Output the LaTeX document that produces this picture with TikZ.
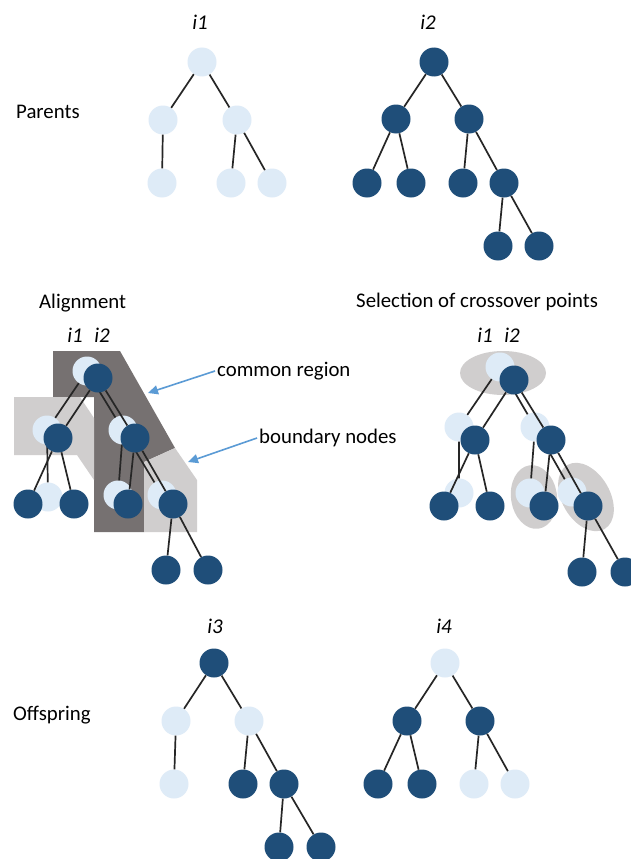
\documentclass[tikz,border=0pt]{standalone}
\usepackage{fontspec}
\setmainfont{Carlito}
\usetikzlibrary{arrows.meta}
\definecolor{dblue}{HTML}{1F4E79}
\definecolor{lblue}{HTML}{DEEBF7}
\definecolor{dgrey}{HTML}{767171}
\definecolor{lgrey}{HTML}{D0CECE}
\definecolor{arrblue}{HTML}{5B9BD5}
\definecolor{edgec}{HTML}{262626}
\begin{document}
\begin{tikzpicture}[x=1pt,y=-1pt,
  dn/.style={circle,fill=dblue,minimum size=29pt,inner sep=0pt},
  ln/.style={circle,fill=lblue,minimum size=29pt,inner sep=0pt},
  ed/.style={draw=edgec,line width=1.7pt},
  lbl/.style={font=\fontsize{20.8}{24}\selectfont,inner sep=2pt,anchor=west},
  ilbl/.style={font=\fontsize{21}{24}\selectfont\itshape,inner sep=0pt},
  arr/.style={draw=arrblue,line width=1.6pt,-{Triangle[length=10pt,width=9pt]}}]
\useasboundingbox[fill=white] (0,0) rectangle (630,859);

% ---------- texts ----------
\node[lbl] (tpar) at (14,112) {Parents};
\node[lbl] (tali) at (37,303) {Alignment};
\node[lbl] (tsel) at (354,302) {Selection of crossover points};
\node[lbl] (tcom) at (215,371) {common region};
\node[lbl] (tbou) at (257,438) {boundary nodes};
\node[lbl] (toff) at (11,715) {Offspring};

\node[ilbl] (la1) at (200,22) {i1};
\node[ilbl] (la2) at (428,22) {i2};
\node[ilbl] (lb1) at (75,335) {i1};
\node[ilbl] (lb2) at (102,335) {i2};
\node[ilbl] (lc1) at (485,335) {i1};
\node[ilbl] (lc2) at (512,335) {i2};
\node[ilbl] (ld3) at (215,626) {i3};
\node[ilbl] (ld4) at (444,626) {i4};

% ---------- Parents i1 ----------
\node[ln] (a1r) at (202,62) {};
\node[ln] (a1L) at (163,120) {};
\node[ln] (a1R) at (237,120) {};
\node[ln] (a1LL) at (162,183) {};
\node[ln] (a1RL) at (231,183) {};
\node[ln] (a1RR) at (272,183) {};
\draw[ed] (a1r)--(a1L) (a1r)--(a1R) (a1L)--(a1LL) (a1R)--(a1RL) (a1R)--(a1RR);

% ---------- Parents i2 ----------
\node[dn] (a2r) at (434,62) {};
\node[dn] (a2L) at (396,119) {};
\node[dn] (a2R) at (469,119) {};
\node[dn] (a2LL) at (367,183) {};
\node[dn] (a2LR) at (411,183) {};
\node[dn] (a2RL) at (463,183) {};
\node[dn] (a2RR) at (504,183) {};
\node[dn] (a2RRL) at (498,246) {};
\node[dn] (a2RRR) at (539,246) {};
\draw[ed] (a2r)--(a2L) (a2r)--(a2R) (a2L)--(a2LL) (a2L)--(a2LR)
          (a2R)--(a2RL) (a2R)--(a2RR) (a2RR)--(a2RRL) (a2RR)--(a2RRR);

% ---------- Alignment regions ----------
\fill[dgrey] (53,351) -- (120,351) -- (175,448) -- (144,462) -- (144,532)
  -- (94,532) -- (94,397) -- (53,397) -- cycle;
\fill[lgrey] (14,397) -- (80,397) -- (94,418) -- (94,480) -- (77,455)
  -- (14,455) -- cycle;
\fill[lgrey] (144,462) -- (175,448) -- (197,480) -- (197,532) -- (144,532) -- cycle;

\coordinate (tipA) at (148,393);
\coordinate (tipB) at (188,462);
\draw[arr] (tcom.west) -- (tipA);
\draw[arr] (tbou.west) -- (tipB);

% alignment i1
\node[ln] (b1r) at (87,371) {};
\node[ln] (b1L) at (47,430) {};
\node[ln] (b1R) at (123,430) {};
\node[ln] (b1LL) at (48,497) {};
\node[ln] (b1RL) at (118,495) {};
\node[ln] (b1RR) at (162,495) {};
\draw[ed] (b1r)--(b1L) (b1r)--(b1R) (b1L)--(b1LL) (b1R)--(b1RL) (b1R)--(b1RR);
% alignment i2
\node[dn] (b2r) at (98,378) {};
\node[dn] (b2L) at (58,438) {};
\node[dn] (b2R) at (135,438) {};
\node[dn] (b2LL) at (28,504) {};
\node[dn] (b2LR) at (74,504) {};
\node[dn] (b2RL) at (128,504) {};
\node[dn] (b2RR) at (173,504) {};
\node[dn] (b2RRL) at (166,570) {};
\node[dn] (b2RRR) at (208,570) {};
\draw[ed] (b2r)--(b2L) (b2r)--(b2R) (b2L)--(b2LL) (b2L)--(b2LR)
          (b2R)--(b2RL) (b2R)--(b2RR) (b2RR)--(b2RRL) (b2RR)--(b2RRR);

% ---------- Selection ----------
\fill[lgrey] (503,373) ellipse [x radius=43, y radius=22];
\fill[lgrey, rotate around={8:(534,497)}] (534,497) ellipse [x radius=23, y radius=32];
\fill[lgrey, rotate around={30:(586,497)}] (586,497) ellipse [x radius=24, y radius=37];

\node[ln] (c1r) at (500,367) {};
\node[ln] (c1L) at (459,427) {};
\node[ln] (c1R) at (535,427) {};
\node[ln] (c1LL) at (459,493) {};
\node[ln] (c1RL) at (530,493) {};
\node[ln] (c1RR) at (572,492) {};
\draw[ed] (c1r)--(c1L) (c1r)--(c1R) (c1L)--(c1LL) (c1R)--(c1RL) (c1R)--(c1RR);
\node[dn] (c2r) at (514,380) {};
\node[dn] (c2L) at (475,440) {};
\node[dn] (c2R) at (551,440) {};
\node[dn] (c2LL) at (444,506) {};
\node[dn] (c2LR) at (490,506) {};
\node[dn] (c2RL) at (544,506) {};
\node[dn] (c2RR) at (588,506) {};
\node[dn] (c2RRL) at (582,572) {};
\node[dn] (c2RRR) at (625,572) {};
\draw[ed] (c2r)--(c2L) (c2r)--(c2R) (c2L)--(c2LL) (c2L)--(c2LR)
          (c2R)--(c2RL) (c2R)--(c2RR) (c2RR)--(c2RRL) (c2RR)--(c2RRR);

% ---------- Offspring i3 ----------
\node[dn] (d3r) at (214,663) {};
\node[ln] (d3L) at (176,721) {};
\node[ln] (d3R) at (249,721) {};
\node[ln] (d3LL) at (174,784) {};
\node[dn] (d3RL) at (243,784) {};
\node[dn] (d3RR) at (284,784) {};
\node[dn] (d3RRL) at (279,847) {};
\node[dn] (d3RRR) at (321,847) {};
\draw[ed] (d3r)--(d3L) (d3r)--(d3R) (d3L)--(d3LL) (d3R)--(d3RL) (d3R)--(d3RR)
          (d3RR)--(d3RRL) (d3RR)--(d3RRR);

% ---------- Offspring i4 ----------
\node[ln] (d4r) at (445,663) {};
\node[dn] (d4L) at (407,721) {};
\node[dn] (d4R) at (480,721) {};
\node[dn] (d4LL) at (378,784) {};
\node[dn] (d4LR) at (422,784) {};
\node[ln] (d4RL) at (474,784) {};
\node[ln] (d4RR) at (515,784) {};
\draw[ed] (d4r)--(d4L) (d4r)--(d4R) (d4L)--(d4LL) (d4L)--(d4LR) (d4R)--(d4RL) (d4R)--(d4RR);
\end{tikzpicture}
\end{document}
